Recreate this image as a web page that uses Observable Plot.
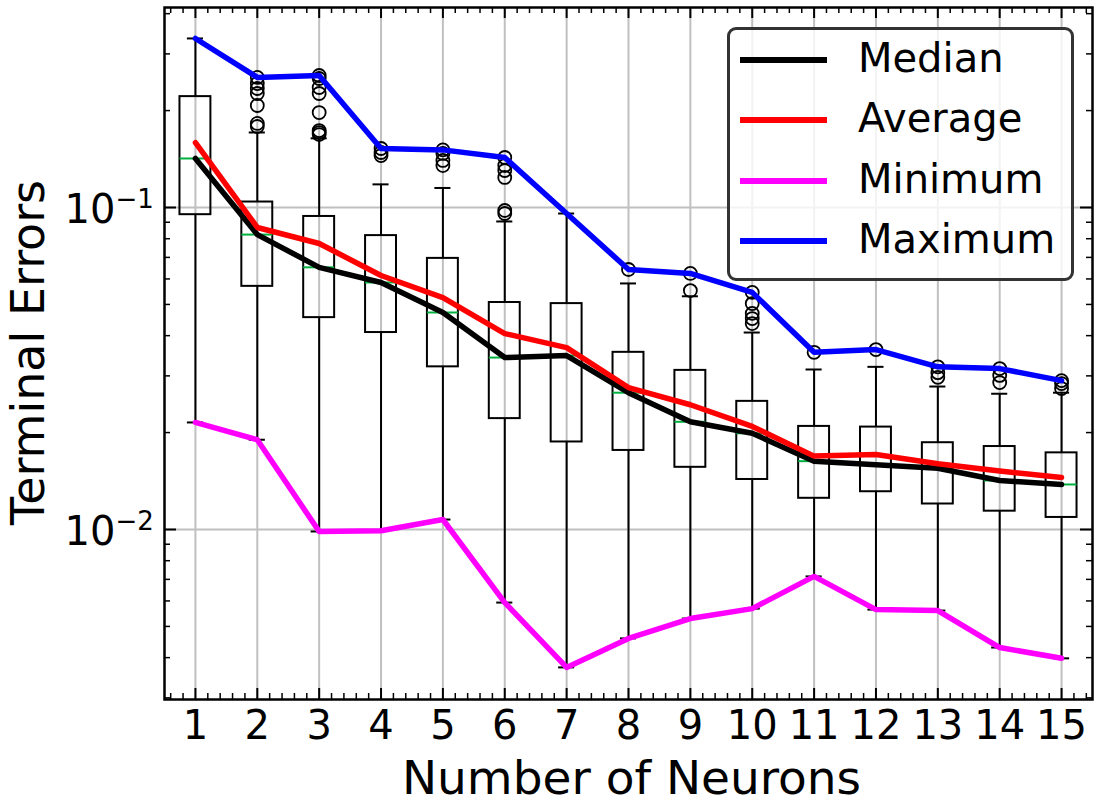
<!DOCTYPE html>
<html>
<head>
<meta charset="utf-8">
<script src="https://cdn.jsdelivr.net/npm/d3@7"></script>
<script src="https://cdn.jsdelivr.net/npm/@observablehq/plot@0.6"></script>
<style>
  html, body { margin: 0; padding: 0; background: white; }
  #wrap { position: relative; width: 1101px; height: 808px; font-family: "DejaVu Sans", sans-serif; }
  #legend { position: absolute; left: 727px; top: 27px; width: 347px; height: 254px; box-sizing: border-box;
            border: 3px solid #333; border-radius: 9px; background: rgba(255,255,255,0.8); }
  .item { position: absolute; left: 0; width: 100%; height: 0; }
  .swatch { position: absolute; left: 10px; width: 87px; height: 5.5px; top: -2.75px; }
  .lab { position: absolute; left: 128px; top: -26px; font-size: 40px; line-height: 48px; color: black; white-space: nowrap; }
</style>
</head>
<body>
<div id="wrap"></div>
<script>
// ---------- data ----------
const neurons = [1, 2, 3, 4, 5, 6, 7, 8, 9, 10, 11, 12, 13, 14, 15];
const q1s = [0.095, 0.0569, 0.0455, 0.0409, 0.032, 0.0221, 0.0187, 0.0176, 0.0156, 0.0143, 0.0125, 0.0131, 0.012, 0.0114, 0.0109];
const q3s = [0.221, 0.104, 0.0938, 0.0818, 0.0695, 0.0507, 0.0503, 0.0355, 0.0312, 0.025, 0.0209, 0.0208, 0.0186, 0.0181, 0.0173];
const medians = [0.142, 0.0824, 0.0652, 0.0585, 0.0472, 0.0342, 0.0347, 0.0266, 0.0216, 0.0199, 0.0163, 0.0159, 0.0155, 0.0142, 0.0138];
const averages = [0.159, 0.0867, 0.0773, 0.0615, 0.0525, 0.0406, 0.0367, 0.0276, 0.0244, 0.0209, 0.0169, 0.0171, 0.016, 0.0152, 0.0145];
const minimums = [0.0215, 0.019, 0.00986, 0.00991, 0.01074, 0.00593, 0.00373, 0.00459, 0.00529, 0.00568, 0.00715, 0.00564, 0.0056, 0.0043, 0.00398];
const maximums = [0.335, 0.2535, 0.257, 0.1525, 0.151, 0.143, 0.0958, 0.0642, 0.0624, 0.0545, 0.0355, 0.0362, 0.032, 0.0316, 0.029];
const whiskerHighs = [0.335, 0.171, 0.164, 0.118, 0.115, 0.0905, 0.0958, 0.0581, 0.053, 0.0409, 0.0314, 0.032, 0.0278, 0.0264, 0.0266];
const outlierValues = [
  [],
  [0.2535, 0.2426, 0.2342, 0.226, 0.2074, 0.1824, 0.1785],
  [0.257, 0.2516, 0.2359, 0.226, 0.1972, 0.1734, 0.1709, 0.1685],
  [0.1525, 0.1482, 0.145],
  [0.151, 0.1472, 0.14, 0.135],
  [0.143, 0.135, 0.1303, 0.124, 0.0979, 0.0958],
  [],
  [0.0642],
  [0.0624, 0.0552],
  [0.0545, 0.0503, 0.0469, 0.0452, 0.0436],
  [0.0355],
  [0.0362],
  [0.032, 0.0307, 0.0297],
  [0.0316, 0.0301, 0.0286],
  [0.029, 0.0284, 0.0274]
];
const yMajorTicks = [0.01, 0.1];
const yTickExponents = ["\u22122", "\u22121"];
const seriesNames = ["Median", "Average", "Minimum", "Maximum"];
const seriesColors = ["#000000", "#ff0000", "#ff00ff", "#0000ff"];

// ---------- derived tables ----------
const boxes = neurons.map((n, i) => ({
  n, q1: q1s[i], q3: q3s[i], med: medians[i], avg: averages[i],
  lo: minimums[i], hi: whiskerHighs[i], max: maximums[i]
}));
const outliers = neurons.flatMap((n, i) => outlierValues[i].map(v => ({n, v})));
const yMin = 0.002965, yMax = 0.418;
const yMinorTicks = [0.001, 0.01, 0.1].flatMap(p => d3.range(2, 10).map(k => k * p)).filter(v => v > yMin && v < yMax);
const xMinorTicks = d3.range(3, 78).map(k => k * 0.2).filter(v => Math.abs(v - Math.round(v)) > 1e-6 && v > 0.5 && v < 15.5);

const W = 1101, H = 808, mL = 164, mR = 9, mT = 7, mB = 109;
const fw = W - mL - mR, fh = H - mT - mB;
const green = "#00b140";

const chart = Plot.plot({
  width: W, height: H,
  marginLeft: mL, marginRight: mR, marginTop: mT, marginBottom: mB,
  x: {type: "linear", domain: [0.5, 15.5], axis: null},
  y: {type: "log", domain: [yMin, yMax], axis: null},
  style: {fontFamily: "DejaVu Sans", background: "white", overflow: "visible"},
  marks: [
    // grid
    Plot.ruleX(neurons, {x: d => d, stroke: "#c0c0c0", strokeWidth: 2}),
    Plot.ruleY(yMajorTicks, {y: d => d, stroke: "#c0c0c0", strokeWidth: 2}),
    // boxes
    Plot.rect(boxes, {x1: d => d.n - 0.25, x2: d => d.n + 0.25, y1: "q1", y2: "q3", fill: "none", stroke: "black", strokeWidth: 2}),
    Plot.ruleX(boxes, {x: "n", y1: "q3", y2: "hi", stroke: "black", strokeWidth: 2}),
    Plot.ruleX(boxes, {x: "n", y1: "lo", y2: "q1", stroke: "black", strokeWidth: 2}),
    Plot.ruleY(boxes, {y: "hi", x1: d => d.n - 0.13, x2: d => d.n + 0.13, stroke: "black", strokeWidth: 2}),
    Plot.ruleY(boxes, {y: "lo", x1: d => d.n - 0.13, x2: d => d.n + 0.13, stroke: "black", strokeWidth: 2}),
    Plot.ruleY(boxes, {y: "med", x1: d => d.n - 0.25, x2: d => d.n + 0.25, stroke: green, strokeWidth: 2}),
    Plot.dot(outliers, {x: "n", y: "v", r: 6.5, fill: "none", stroke: "black", strokeWidth: 1.8}),
    // summary lines
    Plot.line(boxes, {x: "n", y: "med", stroke: seriesColors[0], strokeWidth: 5.5}),
    Plot.line(boxes, {x: "n", y: "avg", stroke: seriesColors[1], strokeWidth: 5.5}),
    Plot.line(boxes, {x: "n", y: "lo", stroke: seriesColors[2], strokeWidth: 5.5}),
    Plot.line(boxes, {x: "n", y: "max", stroke: seriesColors[3], strokeWidth: 5.5}),
    // inward ticks: left / right
    Plot.tickY(yMajorTicks, {y: d => d, insetRight: fw - 12, stroke: "black", strokeWidth: 2}),
    Plot.tickY(yMajorTicks, {y: d => d, insetLeft: fw - 12, stroke: "black", strokeWidth: 2}),
    Plot.tickY(yMinorTicks, {y: d => d, insetRight: fw - 6, stroke: "black", strokeWidth: 1.5}),
    Plot.tickY(yMinorTicks, {y: d => d, insetLeft: fw - 6, stroke: "black", strokeWidth: 1.5}),
    // inward ticks: bottom / top
    Plot.tickX(neurons, {x: d => d, insetTop: fh - 11, stroke: "black", strokeWidth: 2}),
    Plot.tickX(neurons, {x: d => d, insetBottom: fh - 11, stroke: "black", strokeWidth: 2}),
    Plot.tickX(xMinorTicks, {x: d => d, insetTop: fh - 6, stroke: "black", strokeWidth: 1.5}),
    Plot.tickX(xMinorTicks, {x: d => d, insetBottom: fh - 6, stroke: "black", strokeWidth: 1.5}),
    // tick labels
    Plot.text(neurons, {x: d => d, frameAnchor: "bottom", lineAnchor: "middle", textAnchor: "middle", text: d => String(d), dy: 27, fontSize: 40, fill: "black"}),
    Plot.text(yMajorTicks, {y: d => d, frameAnchor: "left", lineAnchor: "middle", text: () => "10", textAnchor: "end", dx: -49, dy: 3, fontSize: 40, fill: "black"}),
    Plot.text(yMajorTicks, {y: d => d, frameAnchor: "left", lineAnchor: "middle", text: (d, i) => yTickExponents[i], textAnchor: "start", dx: -49, dy: -7.5, fontSize: 26, fill: "black"}),
    // axis titles
    Plot.text(["Number of Neurons"], {frameAnchor: "bottom", lineAnchor: "middle", textAnchor: "middle", text: d => d, dx: 3, dy: 79, fontSize: 47, fill: "black"}),
    Plot.text(["Terminal Errors"], {frameAnchor: "left", lineAnchor: "middle", textAnchor: "middle", text: d => d, rotate: -90, dx: -135, dy: -1, fontSize: 46, fill: "black"}),
    Plot.frame({stroke: "black", strokeWidth: 2.5})
  ]
});

const wrap = document.getElementById("wrap");
wrap.appendChild(chart);

// legend (HTML, overlaid on the axes as in the reference)
const legend = document.createElement("div");
legend.id = "legend";
const itemTops = [30, 90, 151, 211];
seriesNames.forEach((name, i) => {
  const it = document.createElement("div");
  it.className = "item";
  it.style.top = itemTops[i] + "px";
  const sw = document.createElement("div");
  sw.className = "swatch";
  sw.style.background = seriesColors[i];
  const lb = document.createElement("div");
  lb.className = "lab";
  lb.textContent = name;
  it.appendChild(sw); it.appendChild(lb);
  legend.appendChild(it);
});
wrap.appendChild(legend);
</script>
</body>
</html>
